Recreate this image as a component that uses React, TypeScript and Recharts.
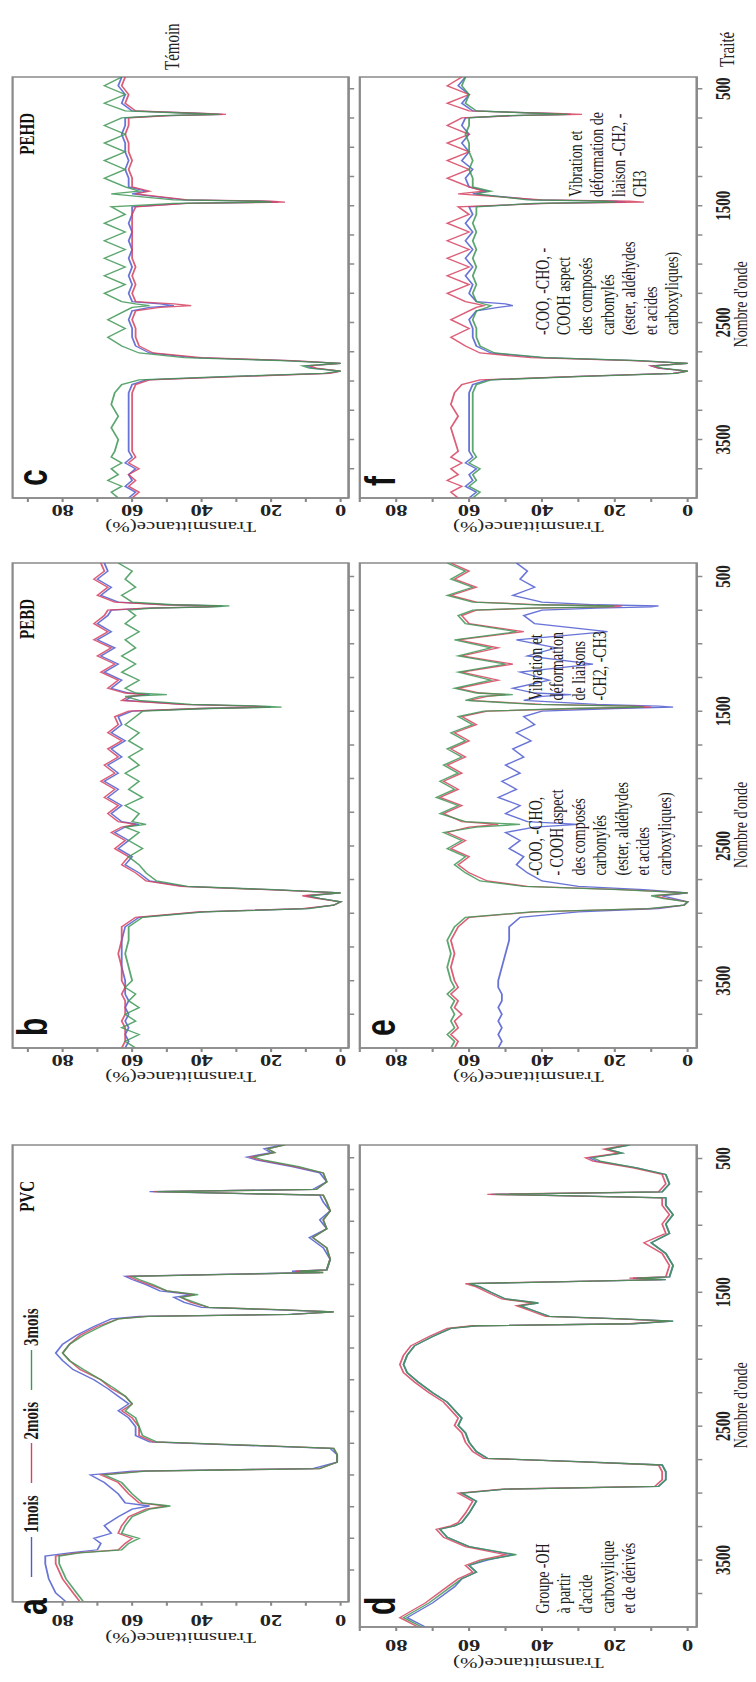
import React from "react";
import { LineChart, Line, XAxis, YAxis, ReferenceArea, ReferenceDot, Legend } from "recharts";

// ---------- wavenumber grids (cm-1) ----------
const WN_PVC = [
  4000, 3930, 3820, 3700, 3640, 3615, 3590, 3540, 3500, 3460,
  3400, 3330, 3270, 3245, 3220, 3150, 3060, 3000, 2970, 2950,
  2900, 2840, 2790, 2765, 2740, 2690, 2620, 2550, 2495, 2440,
  2380, 2320, 2250, 2170, 2100, 2040, 1970, 1900, 1830, 1770,
  1750, 1735, 1715, 1698, 1680, 1640, 1600, 1580, 1550, 1500,
  1460, 1435, 1420, 1405, 1395, 1385, 1300, 1210, 1130, 1060,
  990, 920, 850, 795, 780, 768, 750, 690, 620, 570,
  520, 495, 460, 430, 400,
];
const WN_PEBD = [
  4000, 3950, 3900, 3850, 3800, 3750, 3700, 3650, 3600, 3550,
  3500, 3400, 3300, 3200, 3100, 3030, 2990, 2965, 2940, 2915,
  2890, 2870, 2848, 2825, 2800, 2760, 2700, 2640, 2580, 2520,
  2460, 2400, 2360, 2340, 2320, 2260, 2200, 2140, 2080, 2020,
  1960, 1900, 1840, 1780, 1720, 1660, 1600, 1540, 1500, 1480,
  1470, 1462, 1450, 1420, 1390, 1377, 1365, 1330, 1270, 1210,
  1150, 1090, 1030, 970, 910, 850, 790, 750, 735, 725,
  718, 710, 690, 640, 580, 520, 460, 400,
];
const WN_PEHD = [
  4000, 3950, 3900, 3850, 3800, 3750, 3700, 3650, 3600, 3500,
  3400, 3300, 3200, 3100, 3030, 2990, 2960, 2935, 2915, 2890,
  2870, 2848, 2825, 2800, 2760, 2700, 2625, 2550, 2475, 2400,
  2370, 2355, 2340, 2320, 2250, 2175, 2100, 2025, 1950, 1875,
  1800, 1725, 1650, 1575, 1510, 1480, 1470, 1462, 1450, 1400,
  1377, 1340, 1265, 1190, 1115, 1040, 965, 890, 815, 750,
  730, 720, 712, 690, 625, 550, 475, 400,
];

// ---------- a : PVC témoin ----------
const A_1M = [
  79, 82, 84, 85, 85, 78, 70, 69, 71, 66,
  68, 64, 60, 55, 62, 64, 68, 72, 60, 8,
  1, 1, 3, 30, 55, 59, 59, 61, 64, 61,
  64, 67, 71, 77, 80, 82, 80, 76, 71, 66,
  58, 15, 2, 20, 40, 45, 48, 43, 52, 56,
  60, 62, 35, 6, 14, 4, 3, 5, 9, 4,
  6, 3, 5, 6, 35, 55, 8, 4, 6, 14,
  24, 27, 20, 22, 17,
];
const A_2M = [
  75, 77, 80, 82, 82, 76, 64, 62, 60, 64,
  63, 61, 56, 50, 58, 61, 64, 69, 57, 6,
  1, 1, 2, 28, 54, 58, 58, 60, 63, 60,
  62, 66, 69, 75, 78, 80, 78, 75, 70, 64,
  56, 14, 2, 18, 38, 43, 46, 42, 50, 55,
  59, 61, 33, 5, 13, 4, 3, 4, 8, 4,
  5, 3, 4, 5, 33, 54, 7, 4, 5, 13,
  23, 26, 19, 21, 16,
];
const A_3M = [
  74, 76, 79, 81, 81, 75, 63, 61, 58, 63,
  62, 60, 55, 49, 57, 60, 63, 68, 56, 6,
  1, 1, 2, 27, 53, 57, 58, 59, 62, 60,
  62, 65, 69, 74, 78, 80, 78, 74, 69, 64,
  55, 14, 2, 18, 38, 42, 46, 41, 50, 54,
  58, 60, 32, 5, 12, 4, 3, 4, 8, 4,
  5, 3, 4, 5, 33, 53, 7, 4, 5, 12,
  22, 25, 19, 21, 16,
];
// ---------- d : PVC traité ----------
const D_1M = [
  72, 77, 70, 64, 62, 60, 58, 60, 55, 48,
  60, 66, 68, 64, 62, 60, 58, 62, 50, 8,
  6, 6, 7, 30, 55, 58, 60, 61, 63, 62,
  64, 66, 70, 74, 77, 78, 77, 75, 70, 65,
  58, 15, 4, 18, 38, 42, 46, 41, 50, 54,
  57, 60, 33, 6, 15, 5, 4, 6, 10, 5,
  6, 4, 6, 6, 32, 54, 7, 5, 6, 14,
  25, 27, 18, 22, 16,
];
const D_2M = [
  74, 79, 72, 66, 63, 61, 59, 61, 57, 50,
  61, 67, 69, 65, 63, 61, 59, 63, 51, 9,
  7, 7, 8, 31, 56, 59, 61, 62, 64, 63,
  65, 67, 71, 75, 78, 79, 78, 76, 71, 66,
  59, 16, 5, 19, 39, 43, 47, 42, 51, 55,
  58, 61, 34, 7, 16, 6, 5, 7, 12, 6,
  7, 5, 7, 7, 33, 55, 8, 6, 7, 15,
  26, 28, 19, 23, 17,
];
const D_3M = [
  73, 78, 71, 65, 62, 60, 58, 60, 56, 47,
  60, 66, 68, 64, 62, 60, 58, 62, 50, 8,
  6, 6, 7, 30, 55, 58, 60, 61, 63, 62,
  64, 66, 70, 74, 77, 78, 77, 75, 70, 65,
  58, 15, 4, 18, 38, 42, 46, 41, 50, 54,
  57, 60, 33, 6, 14, 5, 4, 6, 10, 5,
  6, 4, 6, 6, 31, 53, 7, 5, 6, 14,
  24, 26, 18, 22, 16,
];
// ---------- b : PEBD témoin ----------
const B_1M = [
  62, 61, 62, 61, 62, 61, 62, 61, 62, 62,
  62, 63, 63, 63, 62, 58, 40, 10, 2, 0,
  6, 10, 0, 20, 45, 55, 58, 62, 60, 64,
  61, 65, 62, 58, 63, 66, 63, 67, 64, 68,
  64, 67, 63, 66, 62, 66, 63, 64, 60, 40,
  20, 25, 45, 62, 60, 55, 61, 66, 63, 68,
  64, 69, 65, 70, 66, 70, 67, 66, 55, 38,
  34, 50, 64, 69, 66, 70, 67, 68,
];
const B_2M = [
  63, 62, 62, 62, 63, 62, 62, 62, 63, 62,
  63, 63, 64, 63, 63, 59, 41, 11, 2, 0,
  7, 11, 0, 21, 46, 56, 59, 63, 61, 65,
  62, 66, 63, 59, 64, 67, 64, 68, 65, 69,
  65, 68, 64, 67, 63, 67, 64, 65, 61, 41,
  21, 26, 46, 63, 61, 56, 62, 67, 64, 69,
  65, 70, 66, 71, 67, 71, 68, 67, 56, 39,
  35, 51, 65, 70, 67, 71, 68, 69,
];
const B_3M = [
  59, 62, 58, 63, 59, 62, 58, 61, 59, 62,
  60, 61, 62, 61, 61, 57, 39, 9, 2, 0,
  6, 9, 0, 19, 44, 53, 56, 58, 61, 57,
  61, 58, 62, 56, 60, 58, 62, 57, 61, 58,
  62, 58, 61, 57, 61, 58, 62, 59, 57, 38,
  17, 22, 43, 58, 62, 50, 59, 62, 58, 63,
  59, 63, 59, 62, 58, 62, 59, 61, 54, 36,
  32, 48, 60, 63, 59, 62, 60, 64,
];
// ---------- e : PEBD traité ----------
const E_1M = [
  52, 51, 52, 51, 52, 51, 52, 51, 51, 52,
  52, 51, 50, 49, 49, 46, 30, 8, 1, 0,
  4, 7, 0, 12, 30, 40, 44, 47, 45, 49,
  46, 50, 42, 30, 44, 50, 46, 52, 47, 51,
  46, 50, 45, 48, 43, 47, 42, 45, 40, 20,
  4, 8, 25, 45, 40, 32, 42, 48, 38, 46,
  26, 44, 36, 47, 22, 42, 45, 40, 25, 10,
  8, 25, 40, 48, 42, 46, 44, 47,
];
const E_2M = [
  64, 63, 65, 63, 64, 62, 64, 63, 65, 63,
  64, 65, 64, 65, 63, 60, 42, 10, 1, 0,
  6, 9, 0, 18, 44, 55, 60, 63, 60, 65,
  61, 66, 60, 52, 62, 67, 62, 68, 63, 67,
  62, 66, 61, 65, 60, 64, 58, 62, 55, 30,
  10, 14, 40, 60, 55, 50, 57, 63, 52, 62,
  48, 62, 52, 63, 45, 60, 62, 58, 42, 20,
  18, 40, 58, 65, 58, 64, 60, 65,
];
const E_3M = [
  65, 64, 66, 64, 65, 64, 65, 64, 66, 64,
  65, 66, 65, 66, 64, 61, 43, 11, 1, 0,
  7, 10, 0, 19, 45, 57, 61, 64, 61, 66,
  62, 67, 58, 46, 61, 68, 63, 69, 64, 68,
  63, 67, 62, 66, 61, 65, 59, 63, 56, 32,
  12, 16, 42, 61, 57, 48, 58, 64, 54, 63,
  50, 63, 54, 64, 47, 61, 63, 59, 44, 22,
  20, 42, 59, 66, 59, 65, 61, 66,
];
// ---------- c : PEHD témoin ----------
const C_1M = [
  61, 59, 62, 60, 61, 59, 62, 60, 61, 61,
  61, 61, 61, 61, 60, 56, 30, 4, 0, 8,
  10, 0, 15, 42, 55, 59, 60, 60, 61, 60,
  55, 48, 52, 60, 61, 60, 61, 60, 61, 60,
  61, 60, 61, 60, 60, 45, 18, 22, 45, 60,
  56, 61, 61, 62, 61, 62, 62, 63, 62, 62,
  50, 34, 40, 60, 63, 62, 64, 63,
];
const C_2M = [
  60, 58, 61, 59, 61, 58, 61, 59, 60, 60,
  60, 60, 60, 60, 59, 55, 28, 3, 0, 7,
  9, 0, 14, 40, 54, 58, 59, 59, 60, 59,
  52, 43, 48, 59, 60, 59, 60, 59, 60, 60,
  60, 60, 60, 60, 59, 44, 16, 20, 44, 59,
  55, 60, 60, 61, 60, 61, 61, 62, 61, 61,
  49, 33, 39, 59, 62, 61, 63, 62,
];
const C_3M = [
  64, 66, 63, 67, 64, 66, 63, 66, 65, 64,
  66, 64, 66, 65, 63, 58, 32, 5, 0, 9,
  11, 0, 17, 45, 58, 63, 67, 62, 67, 62,
  60, 55, 59, 63, 68, 62, 68, 62, 68, 62,
  68, 62, 68, 62, 66, 48, 20, 24, 48, 66,
  58, 62, 68, 62, 68, 62, 68, 62, 68, 63,
  52, 35, 42, 62, 68, 62, 68, 63,
];
// ---------- f : PEHD traité ----------
const F_1M = [
  60, 58, 61, 59, 60, 58, 61, 59, 60, 60,
  60, 60, 60, 60, 59, 55, 30, 4, 0, 8,
  10, 0, 14, 40, 54, 58, 59, 59, 60, 58,
  52, 48, 50, 58, 60, 59, 61, 59, 61, 59,
  61, 59, 61, 59, 60, 40, 17, 20, 42, 59,
  55, 60, 61, 59, 62, 60, 62, 60, 62, 61,
  48, 32, 38, 59, 62, 60, 63, 61,
];
const F_2M = [
  63, 65, 62, 66, 63, 65, 62, 65, 63, 64,
  65, 63, 65, 64, 62, 57, 30, 4, 0, 8,
  10, 0, 15, 43, 57, 61, 65, 60, 65, 60,
  58, 56, 58, 61, 66, 60, 66, 60, 66, 60,
  66, 60, 66, 60, 63, 38, 12, 16, 40, 63,
  56, 60, 66, 60, 66, 60, 66, 60, 66, 62,
  48, 29, 36, 60, 66, 60, 66, 62,
];
const F_3M = [
  59, 57, 60, 58, 59, 57, 60, 58, 59, 59,
  59, 59, 59, 59, 58, 54, 28, 3, 0, 7,
  9, 0, 13, 39, 53, 57, 58, 58, 59, 58,
  55, 54, 56, 58, 59, 58, 59, 58, 59, 58,
  59, 58, 59, 58, 58, 42, 20, 23, 44, 58,
  54, 59, 59, 60, 59, 60, 60, 61, 60, 60,
  50, 33, 40, 58, 61, 60, 62, 61,
];

const SERIES_NAMES = ["1mois", "2mois", "3mois"];
const SERIES_COLORS = ["#4f5cd0", "#d6425f", "#3f9656"];
const X_TICKS = [500, 750, 1000, 1250, 1500, 1750, 2000, 2250, 2500, 2750, 3000, 3250, 3500, 3750];
const X_LABELS = [500, 1500, 2500, 3500];
const Y_TICKS = [0, 10, 20, 30, 40, 50, 60, 70, 80, 90];
const Y_LABELS = [0, 20, 40, 60, 80];

const NOTE_OH = ["Groupe -OH", "à partir", "d'acide", "carboxylique", "et de dérivés"];
const NOTE_CO_E = ["-COO, -CHO,", "- COOH aspect", "des composés", "carbonylés", "(ester, aldéhydes", "et acides", "carboxyliques)"];
const NOTE_CH_E = ["Vibration et", "déformation", "de liaisons", "-CH2, -CH3"];
const NOTE_CO_F = ["-COO, -CHO, -", "COOH aspect", "des composés", "carbonylés", "(ester, aldéhydes", "et acides", "carboxyliques)"];
const NOTE_CH_F = ["Vibration et", "déformation de", "liaison -CH2, -", "CH3"];

const SERIF = "'Liberation Serif', 'Times New Roman', Times, serif";
const SANS = "'Liberation Sans', Arial, sans-serif";
const AXIS = "#8a8a8a";

// layout of the (unrotated, unstretched) landscape figure
const STRETCH = 1.4;
const FIG_W = 1682;
const FIG_H = 540;
const COLS = [
  { x: 55, w: 482, tickGap: 9, titleGap: 31 },
  { x: 634, w: 485, tickGap: 3, titleGap: 24 },
  { x: 1184, w: 421, tickGap: 3, titleGap: 24 },
];
const ROWS = [
  { y: 8.6, h: 240, min: -2.3, max: 94.4, xh: 7 },
  { y: 257.1, h: 240.7, min: -2.5, max: 90, xh: 42 },
];
const YW = 70;
const M = 2;

type Note = { x: number; y: number; lines: string[] };
type PanelDef = {
  id: string; col: number; row: number; title?: string;
  wn: number[]; s: number[][]; legend?: boolean; notes?: Note[];
};

const PANELS: PanelDef[] = [
  { id: "a", col: 0, row: 0, title: "PVC", wn: WN_PVC, s: [A_1M, A_2M, A_3M], legend: true },
  { id: "b", col: 1, row: 0, title: "PEBD", wn: WN_PEBD, s: [B_1M, B_2M, B_3M] },
  { id: "c", col: 2, row: 0, title: "PEHD", wn: WN_PEHD, s: [C_1M, C_2M, C_3M] },
  { id: "d", col: 0, row: 1, wn: WN_PVC, s: [D_1M, D_2M, D_3M], notes: [{ x: 3900, y: 40, lines: NOTE_OH }] },
  { id: "e", col: 1, row: 1, wn: WN_PEBD, s: [E_1M, E_2M, E_3M], notes: [{ x: 2720, y: 42, lines: NOTE_CO_E }, { x: 1420, y: 42, lines: NOTE_CH_E }] },
  { id: "f", col: 2, row: 1, wn: WN_PEHD, s: [F_1M, F_2M, F_3M], notes: [{ x: 2606, y: 40, lines: NOTE_CO_F }, { x: 1426, y: 31, lines: NOTE_CH_F }] },
];

const YTick = (props: any) => {
  const { x, y, payload } = props;
  if (!Y_LABELS.includes(payload.value)) return <g />;
  return (
    <text x={x} y={y} transform={`rotate(-90 ${x} ${y})`} textAnchor="middle" fontFamily={SERIF} fontWeight="bold" fontSize={16} fill="#222">
      {payload.value}
    </text>
  );
};
const XTickLabeled = (props: any) => {
  const { x, y, payload } = props;
  if (!X_LABELS.includes(payload.value)) return <g />;
  return (
    <text x={x} y={y + 20} textAnchor="middle" fontFamily={SERIF} fontWeight="bold" fontSize={15} fill="#222">
      {payload.value}
    </text>
  );
};
const NoTick = () => <g />;

const noteShape = (lines: string[]) => (props: any) => {
  const { cx, cy } = props;
  return (
    <text x={cx} y={cy} fontFamily={SERIF} fontSize={14} fill="#1c1c1c">
      {lines.map((l, i) => (
        <tspan key={i} x={cx} y={cy + 5 + i * 15.4}>{l}</tspan>
      ))}
    </text>
  );
};

const renderLegend = (props: any) => (
  <div style={{ display: "flex", alignItems: "center", fontFamily: SERIF, fontWeight: "bold", fontSize: 15, color: "#1c1c1c", whiteSpace: "nowrap" }}>
    {(props.payload || []).map((e: any) => (
      <span key={e.value} style={{ display: "inline-flex", alignItems: "center", marginRight: 12 }}>
        <span style={{ display: "inline-block", width: 40, borderTop: `1.6px solid ${e.color}`, marginRight: 4 }} />
        {e.value}
      </span>
    ))}
  </div>
);

function Panel({ p }: { p: PanelDef }) {
  const c = COLS[p.col];
  const r = ROWS[p.row];
  const data = p.wn.map((w, i) => ({ wn: w, m1: p.s[0][i], m2: p.s[1][i], m3: p.s[2][i] }));
  const left = c.x - YW;
  const top = r.y - M;
  const yTitle = (lp: any) => {
    const vb = lp.viewBox || {};
    const tx = (vb.x ?? 0) + (vb.width ?? YW) - c.titleGap;
    const ty = (vb.y ?? M) + (vb.height ?? r.h) / 2;
    return (
      <text x={tx} y={ty} transform={`rotate(-90 ${tx} ${ty})`} textAnchor="middle" fontFamily={SERIF} fontSize={15} fill="#222">
        Transmittance(%)
      </text>
    );
  };
  const xTitle = (lp: any) => {
    const vb = lp.viewBox || {};
    const tx = (vb.x ?? YW) + (vb.width ?? c.w) * 0.46;
    const ty = (vb.y ?? r.h) + 36;
    return (
      <text x={tx} y={ty} textAnchor="middle" fontFamily={SERIF} fontSize={14} fill="#222">
        Nombre d'onde
      </text>
    );
  };
  return (
    <div style={{ position: "absolute", left, top }}>
      <LineChart width={YW + c.w + M} height={M + r.h + r.xh} data={data} margin={{ top: M, right: M, bottom: 0, left: 0 }}>
        <XAxis
          dataKey="wn" type="number" domain={[400, 4000]} reversed allowDataOverflow
          ticks={X_TICKS} interval={0} height={r.xh} tickSize={4} tickMargin={0}
          stroke={AXIS} strokeWidth={1.5}
          tick={p.row === 1 ? XTickLabeled : NoTick}
          label={p.row === 1 ? xTitle : undefined}
        />
        <YAxis
          type="number" domain={[r.min, r.max]} allowDataOverflow ticks={Y_TICKS} interval={0}
          width={YW} tickSize={4} tickMargin={c.tickGap} stroke={AXIS} strokeWidth={1.5}
          tick={YTick} label={yTitle}
        />
        <ReferenceArea x1={400} x2={4000} y1={r.min} y2={r.max} fill="none" stroke={AXIS} strokeWidth={1.6} ifOverflow="visible" />
        {["m1", "m2", "m3"].map((k, i) => (
          <Line key={k} dataKey={k} name={SERIES_NAMES[i]} type="linear" stroke={SERIES_COLORS[i]} strokeWidth={1.3} strokeOpacity={0.85} dot={false} isAnimationActive={false} />
        ))}
        {(p.notes || []).map((n, i) => (
          <ReferenceDot key={i} x={n.x} y={n.y} r={0} ifOverflow="visible" shape={noteShape(n.lines)} />
        ))}
        {p.legend && (
          <Legend
            verticalAlign="middle" align="left" layout="horizontal" content={renderLegend}
            wrapperStyle={{ position: "absolute", left: 105 - left, top: 23 - 9 - top, width: 360, height: 18 }}
          />
        )}
      </LineChart>
    </div>
  );
}

export default function App() {
  return (
    <div style={{ position: "absolute", left: 0, top: 0, width: 756, height: 1682, overflow: "hidden", background: "#fff" }}>
      <div
        style={{
          position: "absolute", left: 0, top: 0, width: FIG_W, height: FIG_H,
          transformOrigin: "0 0",
          transform: `translate(0px, ${FIG_W}px) rotate(-90deg) scale(1, ${STRETCH})`,
          background: "#fff",
        }}
      >
        {PANELS.map((p) => <Panel key={p.id} p={p} />)}
        <svg width={FIG_W} height={FIG_H} style={{ position: "absolute", left: 0, top: 0, pointerEvents: "none" }}>
          {PANELS.map((p) => {
            const c = COLS[p.col];
            const r = ROWS[p.row];
            return (
              <g key={p.id}>
                <text x={c.x + 12} y={r.y + 25} fontFamily={SANS} fontWeight="bold" fontSize={30} fill="#111">{p.id}</text>
                {p.title && (
                  <text x={c.x + c.w - 36} y={r.y + 16} textAnchor="end" fontFamily={SERIF} fontWeight="bold" fontSize={15} fill="#111">{p.title}</text>
                )}
              </g>
            );
          })}
          <text x={1612} y={128} fontFamily={SERIF} fontSize={15} fill="#222">Témoin</text>
          <text x={1615} y={524} fontFamily={SERIF} fontSize={15} fill="#222">Traité</text>
        </svg>
      </div>
    </div>
  );
}
